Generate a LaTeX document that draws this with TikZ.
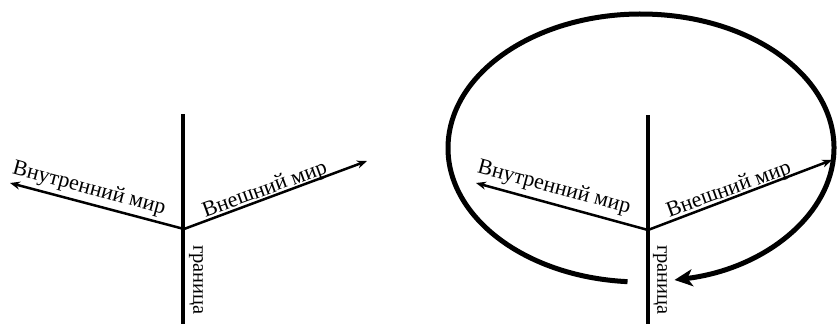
\documentclass[tikz,border=0pt]{standalone}
\usepackage{fontspec}
\setmainfont{Liberation Serif}
\usetikzlibrary{arrows.meta}
\begin{document}
\begin{tikzpicture}[x=1pt,y=-1pt,
  border/.style={line width=4pt},
  world/.style={line width=2.5pt,-{Stealth[length=10pt,width=8pt]}},
  loop/.style={line width=5pt,-{Stealth[length=18pt,width=17pt,inset=5pt]}},
  lbl/.style={font=\fontsize{22}{24}\selectfont,inner sep=0pt},
  vlbl/.style={font=\fontsize{20.5}{22}\selectfont,inner sep=0pt,rotate=-90}]
\useasboundingbox (0,0) rectangle (837,324);
% left diagram
\coordinate (top1) at (183,114);
\coordinate (bot1) at (183,324);
\coordinate (j1) at (184,229);
\coordinate (l1) at (10,183);
\coordinate (r1) at (367,161);
\draw[border] (top1) -- (bot1);
\draw[world] (j1) -- (l1);
\draw[world] (j1) -- (r1);
\node[lbl,rotate=-15] (in1) at (89,189) {Внутренний мир};
\node[lbl,rotate=20] (out1) at (265,190) {Внешний мир};
\node[vlbl] (gr1) at (196,280) {граница};
% right diagram
\coordinate (top2) at (648,115);
\coordinate (bot2) at (648,324);
\coordinate (j2) at (648,230);
\coordinate (l2) at (476,183);
\coordinate (r2) at (832,160);
\draw[border] (top2) -- (bot2);
\draw[world] (j2) -- (l2);
\draw[world] (j2) -- (r2);
\node[lbl,rotate=-15] (in2) at (554,188) {Внутренний мир};
\node[lbl,rotate=20] (out2) at (729,190) {Внешний мир};
\node[vlbl] (gr2) at (660,280) {граница};
\coordinate (c2) at (641,148);
\draw[loop] (c2) ++(94:193 and 134) arc[start angle=94,end angle=440,x radius=193,y radius=134];
\end{tikzpicture}
\end{document}
